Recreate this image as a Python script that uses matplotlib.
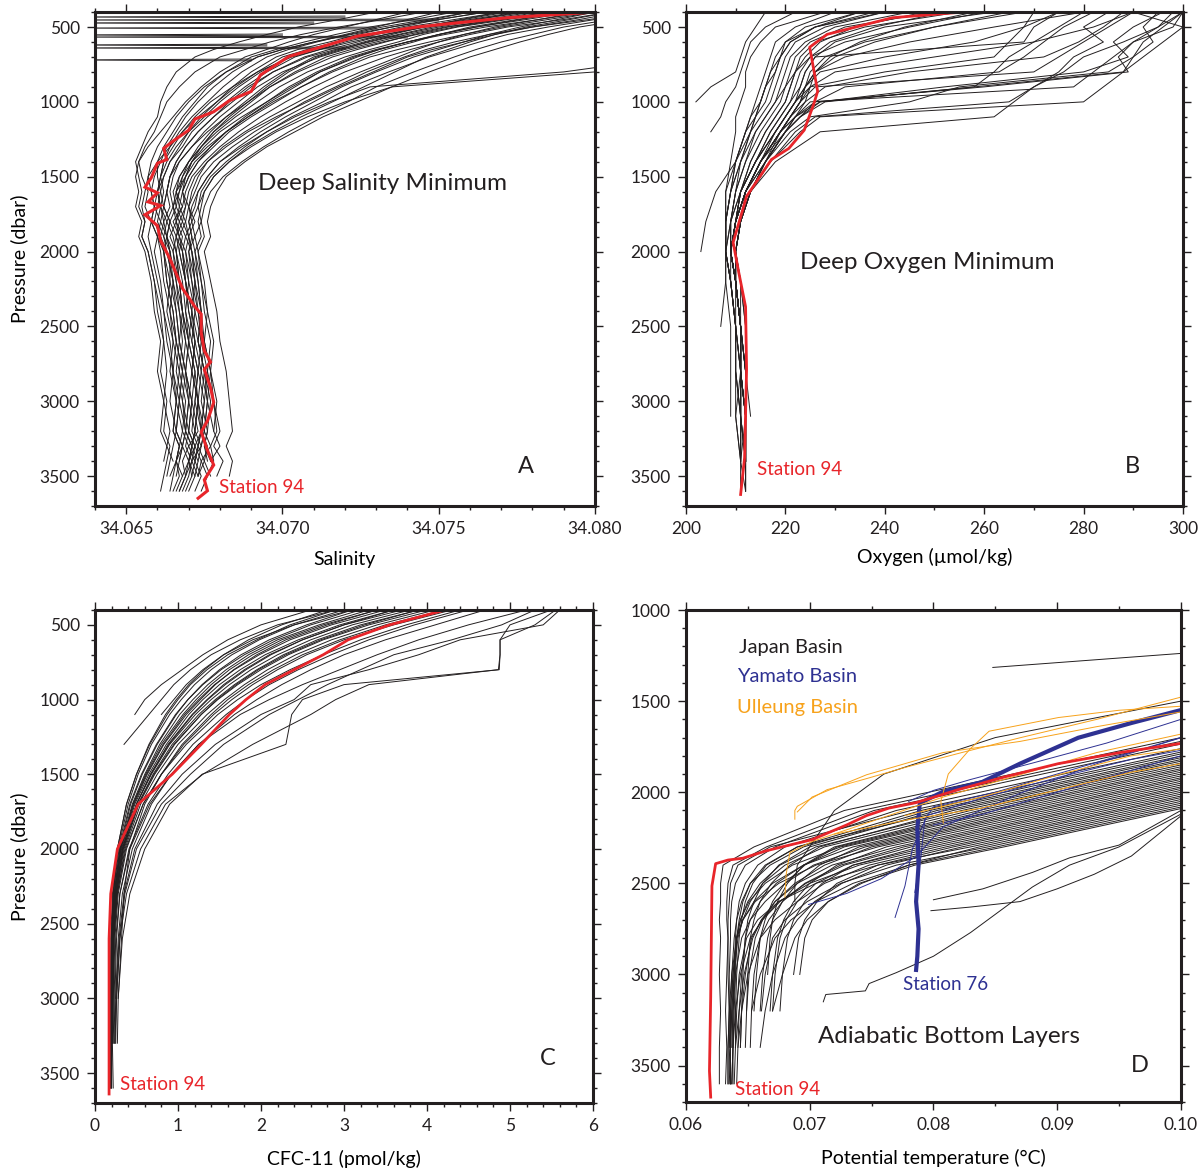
import numpy as np
import matplotlib
matplotlib.use("Agg")
import matplotlib.pyplot as plt
from matplotlib.ticker import MultipleLocator

plt.rcParams['font.family'] = ['Lato', 'DejaVu Sans']

BLACK = '#231f20'
RED = '#e8252a'
BLUE = '#2e3192'
ORANGE = '#f7a21b'

nan = np.nan

# ---------------- panel A: salinity (units of 1e-4 above 34.060) ----------------
sal_levels = [400, 450, 500, 550, 600, 650, 700, 800, 900, 1000, 1100, 1200, 1300, 1400, 1500,
              1600, 1700, 1800, 1900, 2000, 2200, 2400, 2600, 2800, 3000, 3200, 3300, 3400, 3500, 3600]
sal_profiles_e4 = [
    [205, 190, 172, 160, 150, 141, 133, 120, 110, 101, 93, 86, 80, 75, 71, 69, 68, 66, 68, 67, 69, 70, 72, 71, 73, 72, 74, 71, 73, nan],
    [198, 182, 165, 152, 140, 131, 124, 112, 104, 96, 89, 82, 77, 72, 69, 66, 68, 65, 67, 66, 68, 69, 70, 72, 71, 73, 70, 72, nan, nan],
    [210, 200, 185, 172, 163, 155, 147, 134, 122, 113, 103, 95, 88, 82, 77, 74, 73, 71, 72, 70, 72, 73, 75, 74, 76, 75, 77, 74, 76, 74],
    [185, 170, 152, 140, 130, 120, 112, 100, 92, 86, 80, 75, 71, 67, 64, 63, 62, 64, 63, 65, 66, 67, 69, 68, 70, 69, 71, 70, 68, nan],
    [175, 160, 143, 130, 120, 112, 104, 95, 88, 82, 76, 71, 68, 64, 62, 60, 61, 62, 61, 63, 65, 66, 67, 69, 68, 70, 69, 71, 69, nan],
    [220, 205, 190, 180, 170, 162, 155, 142, 130, 121, 111, 102, 94, 87, 81, 77, 75, 74, 75, 73, 75, 76, 78, 77, 79, 78, 80, 77, nan, nan],
    [190, 175, 160, 150, 142, 133, 126, 115, 106, 98, 90, 83, 78, 73, 70, 68, 67, 69, 67, 69, 70, 72, 71, 73, 72, 74, 73, 72, 74, 72],
    [160, 148, 135, 124, 115, 105, 98, 90, 84, 79, 74, 70, 66, 63, 61, 60, 59, 61, 60, 62, 63, 65, 66, 65, 67, 66, 68, 66, 67, 65],
    [200, 188, 176, 166, 158, 150, 142, 130, 119, 110, 101, 93, 86, 80, 76, 73, 71, 70, 71, 70, 71, 73, 74, 76, 75, 74, 76, 75, 77, nan],
    [180, 165, 150, 138, 128, 118, 110, 101, 94, 88, 82, 77, 73, 70, 67, 66, 65, 66, 64, 66, 67, 68, 70, 69, 71, 70, 72, 71, 70, 68],
    [215, 198, 180, 166, 155, 146, 139, 127, 117, 107, 99, 91, 84, 78, 74, 72, 70, 72, 70, 71, 73, 74, 73, 75, 77, 76, 75, 77, nan, nan],
    [170, 155, 140, 128, 118, 110, 102, 93, 86, 80, 75, 70, 67, 64, 62, 61, 60, 59, 61, 62, 64, 63, 65, 67, 66, 68, 67, 66, 68, 66],
    [195, 182, 168, 158, 150, 143, 137, 125, 114, 105, 96, 88, 81, 76, 72, 70, 69, 68, 70, 69, 71, 72, 74, 73, 75, 74, 73, 75, 73, nan],
    [208, 195, 180, 168, 158, 148, 140, 129, 118, 108, 98, 89, 82, 76, 73, 71, 70, 71, 69, 71, 72, 71, 73, 75, 74, 76, 75, 76, nan, nan],
    [150, 140, 130, 120, 110, 100, 92, 84, 78, 73, 69, 66, 63, 61, 59, 58, 59, 58, 60, 61, 62, 64, 65, 64, 66, 65, 67, 66, 64, nan],
    [188, 172, 156, 145, 137, 128, 120, 108, 99, 92, 85, 79, 74, 70, 68, 67, 65, 67, 66, 68, 69, 71, 70, 72, 73, 72, 71, 73, 72, 70],
    [205, 192, 178, 168, 160, 153, 146, 136, 126, 116, 106, 97, 89, 83, 78, 75, 74, 73, 74, 72, 74, 75, 77, 76, 78, 80, 78, 81, 79, nan],
    [170, 157, 145, 135, 126, 117, 108, 97, 89, 83, 78, 73, 69, 66, 64, 63, 64, 62, 63, 64, 65, 67, 68, 67, 69, 68, 70, 68, 69, 67],
    [182, 168, 153, 142, 133, 124, 116, 105, 96, 90, 84, 78, 74, 70, 67, 65, 66, 64, 66, 65, 67, 68, 69, 71, 70, 72, 71, 70, nan, nan],
    [225, 210, 195, 185, 176, 168, 160, 147, 135, 124, 113, 104, 95, 88, 82, 79, 77, 76, 77, 75, 77, 79, 80, 82, 83, 84, 82, 84, 83, nan],
    [165, 150, 138, 127, 117, 108, 100, 92, 85, 79, 73, 68, 64, 60, 57, 56, 55, 56, 55, 57, 59, 60, 62, 61, 63, 62, 64, 63, 62, 61],
    [140, 130, 120, 110, 102, 95, 88, 80, 74, 69, 65, 61, 57, 54, 53, 54, 53, 55, 54, 56, 58, 59, 61, 60, 62, 61, 63, 62, nan, nan],
    [193, 178, 162, 150, 140, 130, 122, 111, 102, 95, 88, 82, 77, 73, 70, 68, 69, 67, 69, 68, 70, 69, 71, 73, 72, 71, 73, 72, 71, nan],
    [176, 162, 148, 137, 127, 119, 111, 102, 95, 89, 83, 78, 74, 71, 69, 68, 70, 69, 70, 71, 72, 74, 75, 77, 78, 79, 77, 78, 76, nan],
    [240, 238, 235, 232, 230, 228, 225, 190, 128, 115, 104, 95, 87, 80, 76, 73, 72, 70, 71, 72, 73, 74, 73, 75, 76, 75, 74, nan, nan, nan],
    [240, 238, 236, 234, 232, 230, 228, 200, 135, 120, 108, 98, 90, 83, 78, 75, 73, 74, 72, 73, 74, 76, 75, 77, 76, 78, nan, nan, nan, nan],
    [130, 118, 105, 95, 86, 78, 72, 66, 63, 61, 60, 57, 55, 53, 54, 55, 54, 56, 55, 57, 59, 61, 62, 63, 62, 64, 63, 65, nan, nan],
    [145, 132, 118, 106, 96, 88, 80, 72, 67, 63, 61, 59, 56, 54, 55, 57, 56, 58, 57, 58, 60, 62, 63, 65, 64, 66, 65, 64, 63, nan],
    [165, 150, 135, 122, 110, 100, 92, 82, 75, 70, 66, 63, 60, 58, 57, 58, 59, 58, 60, 59, 61, 62, 64, 65, 66, 65, 67, 66, 65, 64],
    [178, 162, 146, 133, 122, 112, 103, 92, 84, 77, 72, 68, 65, 62, 61, 62, 61, 63, 62, 64, 64, 66, 67, 66, 68, 69, 68, 70, 69, 67],
    [155, 142, 128, 117, 107, 98, 90, 82, 76, 72, 68, 65, 62, 60, 60, 61, 62, 61, 63, 62, 63, 65, 66, 68, 67, 69, 68, 67, nan, nan],
    [185, 170, 155, 143, 132, 122, 114, 104, 96, 89, 82, 76, 71, 67, 65, 64, 65, 63, 65, 66, 67, 68, 70, 69, 71, 70, 72, 70, 71, 69],
    [200, 185, 170, 158, 147, 137, 128, 116, 106, 97, 89, 82, 76, 71, 68, 66, 67, 66, 67, 68, 69, 70, 72, 71, 73, 74, 72, 74, 73, nan],
    [172, 158, 144, 133, 124, 115, 107, 97, 90, 84, 78, 73, 69, 66, 64, 63, 62, 64, 63, 64, 66, 68, 67, 69, 70, 69, 71, 70, 72, nan],
    [190, 176, 162, 150, 140, 131, 123, 112, 103, 95, 87, 80, 75, 71, 69, 67, 66, 68, 66, 67, 69, 71, 72, 74, 73, 75, 74, 73, nan, nan],
    [160, 146, 132, 121, 111, 102, 95, 87, 81, 76, 71, 67, 64, 62, 61, 60, 61, 60, 62, 63, 65, 64, 66, 68, 67, 66, 68, 67, 66, nan],
]
# shallow spikes that run off the left edge
sal_spike_p = [433, 453, 473, 507, 553, 567, 620, 640, 720]
sal_spike_e4 = [120, 150, 110, 130, 100, 140, 95, 120, 90]
sal_spike_left_e4 = 30

sal94_p = [400, 438, 500, 561, 623, 697, 820, 930, 992, 1066, 1115, 1189, 1262, 1311, 1385, 1410, 1508,
           1570, 1607, 1668, 1693, 1754, 1828, 1926, 2049, 2148, 2246, 2369, 2418, 2541, 2664, 2738,
           2787, 2910, 3008, 3131, 3205, 3328, 3426, 3525, 3598, 3648]
sal94_e4 = [200, 172, 143, 124, 114, 102, 93, 90, 83, 78, 72, 70, 65, 62, 63, 60, 58,
            56, 60, 57, 61, 56, 60, 61, 64, 66, 68, 72, 74, 74, 75, 77,
            75, 77, 78, 76, 74, 76, 78, 75, 76, 73]

# ---------------- panel B: oxygen ----------------
oxy_levels = [400, 500, 600, 700, 800, 900, 1000, 1100, 1200, 1400, 1600, 1800, 2000, 2200, 2500, 2800, 3100, 3400, 3600]
oxy_profiles = [
    [250, 232, 225, 222, 221, 220, 219, 217, 215, 212, 210, 209, 209, 210, 211, 211, 211, 212, nan],
    [240, 228, 222, 220, 219, 218, 217, 215, 213, 211, 209, 208, 208, 209, 210, 210, 211, 211, 211],
    [262, 240, 230, 226, 224, 223, 222, 220, 218, 215, 212, 211, 210, 211, 212, 212, 212, 212, nan],
    [230, 222, 218, 217, 216, 215, 214, 213, 212, 210, 209, 208, 208, 209, 210, 211, 210, 211, nan],
    [280, 262, 245, 232, 226, 224, 222, 220, 218, 214, 211, 210, 209, 210, 211, 211, 212, 211, 212],
    [290, 285, 280, 275, 270, 226, 223, 221, 219, 216, 213, 211, 210, 211, 212, 212, 213, nan, nan],
    [298, 295, 290, 286, 282, 278, 225, 222, 220, 216, 213, 211, 210, 210, 211, 212, 212, 212, nan],
    [270, 268, 265, 262, 240, 225, 222, 220, 218, 214, 211, 210, 209, 210, 211, 211, 211, 211, nan],
    [300, 298, 290, 287, 289, 260, 226, 223, 220, 216, 213, 211, 210, 210, 211, 212, 212, 212, 212],
    [285, 280, 284, 278, 275, 270, 265, 226, 222, 217, 213, 211, 210, 211, 211, 212, 212, nan, nan],
    [235, 224, 220, 219, 218, 217, 216, 214, 212, 210, 208, 208, 208, 209, 210, 210, 211, 211, nan],
    [255, 236, 226, 223, 222, 221, 220, 218, 216, 213, 211, 209, 209, 210, 211, 211, 212, 212, 212],
    [245, 230, 224, 221, 220, 219, 218, 216, 214, 212, 210, 209, 208, 209, 210, 211, 211, nan, nan],
    [275, 270, 268, 226, 224, 223, 221, 219, 217, 214, 211, 210, 209, 210, 211, 211, 212, 212, nan],
    [295, 292, 294, 290, 285, 255, 245, 225, 221, 216, 212, 210, 209, 210, 211, 211, 212, 212, nan],
    [228, 218, 215, 213, 212, 212, 211, 210, 210, 209, 208, 208, 208, 209, 210, 210, 210, 211, nan],
    [265, 250, 236, 228, 225, 224, 223, 221, 219, 215, 212, 210, 209, 210, 211, 211, 211, 212, nan],
    [280, 275, 270, 265, 262, 258, 227, 223, 220, 215, 212, 210, 209, 210, 211, 211, 212, nan, nan],
    [222, 216, 213, 212, 211, 210, 208, 207, 205, nan, nan, nan, nan, nan, nan, nan, nan, nan, nan],
    [216, 214, 212, 211, 210, 205, 202, nan, nan, nan, nan, nan, nan, nan, nan, nan, nan, nan, nan],
    [235, 226, 221, 219, 217, 216, 215, 214, 213, 210, 206, 204, 203, nan, nan, nan, nan, nan, nan],
    [240, 226, 220, 218, 217, 216, 215, 214, 213, 211, 210, 209, 208, 208, 207, nan, nan, nan, nan],
    [260, 245, 232, 225, 222, 220, 218, 216, 214, 211, 209, 208, 208, 208, 209, 209, 209, nan, nan],
    [290, 300, 296, 292, 288, 284, 280, 227, 223, 217, 213, 211, 210, 210, 211, 211, 212, 212, nan],
    [300, 296, 292, 290, 288, 258, 228, 223, 220, 216, 212, 210, 209, 210, 211, 211, 212, 212, nan],
    [296, 290, 286, 289, 280, 252, 227, 222, 219, 215, 212, 210, 209, 210, 211, 212, 212, nan, nan],
    [288, 284, 279, 272, 245, 228, 224, 221, 219, 215, 212, 210, 209, 210, 211, 211, 211, 212, nan],
    [275, 268, 258, 240, 227, 224, 222, 220, 218, 214, 211, 210, 209, 209, 210, 211, 211, 211, nan],
    [290, 282, 270, 250, 230, 225, 223, 221, 219, 215, 212, 210, 209, 210, 211, 212, 212, 212, nan],
    [258, 244, 235, 229, 226, 224, 223, 221, 219, 215, 212, 210, 209, 210, 211, 211, 212, 212, 212],
    [248, 234, 227, 224, 222, 221, 220, 218, 216, 213, 211, 209, 209, 210, 210, 211, 211, 211, nan],
    [268, 250, 238, 230, 226, 225, 224, 222, 220, 216, 213, 211, 210, 210, 211, 212, 212, nan, nan],
    [238, 226, 221, 219, 218, 216, 215, 213, 212, 210, 209, 208, 208, 209, 210, 210, 211, 211, nan],
    [300, 295, 288, 280, 276, 270, 266, 262, 227, 218, 213, 211, 210, 210, 211, 211, 212, 212, nan],
    [282, 276, 272, 268, 263, 232, 226, 222, 219, 215, 212, 210, 209, 210, 211, 211, 212, nan, nan],
    [252, 238, 229, 225, 223, 222, 221, 219, 217, 214, 211, 210, 209, 210, 211, 211, 211, 212, nan],
]
oxy94_p = [400, 438, 549, 635, 930, 1016, 1189, 1311, 1385, 1631, 1939, 2135, 2369, 2787, 3377, 3623]
oxy94 = [255.8, 241.5, 228.4, 224.9, 226.5, 225.7, 223.8, 220.7, 217.2, 212.2, 209.5, 210.6, 212.0, 212.2, 211.8, 211.0]

# ---------------- panel C: CFC-11 ----------------
cfc_levels = [400, 500, 600, 700, 800, 900, 1000, 1100, 1300, 1500, 1700, 2000, 2300, 2600, 3000, 3300, 3600]
cfc_profiles = [
    [3.2, 2.6, 2.15, 1.8, 1.52, 1.3, 1.12, 0.98, 0.75, 0.57, 0.43, 0.3, 0.23, 0.2, 0.19, 0.19, nan],
    [3.5, 2.85, 2.35, 1.98, 1.68, 1.44, 1.25, 1.08, 0.82, 0.62, 0.46, 0.31, 0.24, 0.21, 0.2, 0.19, nan],
    [3.0, 2.4, 1.98, 1.65, 1.4, 1.2, 1.04, 0.9, 0.68, 0.52, 0.4, 0.28, 0.22, 0.2, 0.19, nan, nan],
    [3.8, 3.1, 2.6, 2.2, 1.88, 1.62, 1.4, 1.21, 0.9, 0.68, 0.5, 0.33, 0.25, 0.21, 0.2, 0.2, nan],
    [3.6, 2.95, 2.45, 2.05, 1.75, 1.5, 1.3, 1.13, 0.86, 0.65, 0.48, 0.32, 0.24, 0.21, 0.2, 0.19, 0.19],
    [4.0, 3.3, 2.75, 2.33, 2.0, 1.72, 1.48, 1.28, 0.96, 0.72, 0.53, 0.35, 0.26, 0.22, 0.21, 0.2, nan],
    [2.8, 2.25, 1.85, 1.55, 1.32, 1.13, 0.98, 0.85, 0.65, 0.5, 0.38, 0.27, 0.21, 0.19, 0.19, 0.18, nan],
    [4.4, 3.75, 3.2, 2.75, 2.35, 2.0, 1.72, 1.48, 1.1, 0.8, 0.58, 0.37, 0.27, 0.23, 0.21, 0.21, nan],
    [3.4, 2.75, 2.25, 1.9, 1.62, 1.4, 1.22, 1.06, 0.8, 0.61, 0.46, 0.31, 0.24, 0.21, 0.2, 0.2, nan],
    [3.9, 3.2, 2.68, 2.27, 1.95, 1.68, 1.45, 1.25, 0.93, 0.7, 0.52, 0.34, 0.26, 0.22, 0.21, 0.2, nan],
    [4.7, 4.1, 3.5, 3.0, 2.6, 2.25, 1.95, 1.68, 1.25, 0.92, 0.66, 0.42, 0.3, 0.25, 0.23, 0.22, nan],
    [5.2, 4.5, 3.9, 3.4, 2.95, 2.5, 2.1, 1.75, 1.25, 0.92, 0.68, 0.45, 0.33, 0.28, 0.25, nan, nan],
    [5.55, 5.3, 4.88, 4.88, 4.86, 3.3, 2.9, 2.6, 1.9, 1.3, 0.85, 0.55, 0.38, 0.3, 0.26, 0.25, nan],
    [5.5, 5.0, 4.88, 4.88, 4.87, 3.0, 2.5, 2.37, 2.3, 1.29, 0.9, 0.6, 0.42, 0.33, 0.28, 0.27, nan],
    [5.3, 4.9, 4.3, 3.6, 3.2, 2.8, 2.45, 2.1, 1.55, 1.15, 0.8, 0.5, 0.36, 0.3, 0.26, 0.24, nan],
    [5.6, 5.4, 4.4, 3.9, 3.3, 2.6, 2.4, 2.0, 1.45, 1.05, 0.75, 0.48, 0.35, 0.29, 0.25, 0.24, nan],
    [2.6, 2.0, 1.6, 1.3, 1.05, 0.8, 0.6, 0.48, nan, nan, nan, nan, nan, nan, nan, nan, nan],
    [2.9, 2.2, 1.75, 1.4, 1.15, 0.95, 0.8, 0.65, 0.35, nan, nan, nan, nan, nan, nan, nan, nan],
    [3.1, 2.4, 1.9, 1.55, 1.3, 1.1, 0.95, 0.8, nan, nan, nan, nan, nan, nan, nan, nan, nan],
    [2.9, 2.35, 1.95, 1.6, 1.35, 1.15, 1.0, 0.87, 0.66, 0.5, 0.38, 0.27, 0.22, 0.2, 0.2, 0.19, 0.19],
    [4.2, 3.5, 2.95, 2.5, 2.15, 1.85, 1.6, 1.4, 1.05, 0.8, 0.6, 0.42, 0.35, 0.32, 0.28, nan, nan],
    [3.7, 3.0, 2.5, 2.1, 1.8, 1.55, 1.35, 1.17, 0.88, 0.67, 0.5, 0.33, 0.25, 0.22, 0.21, 0.21, 0.22],
    [4.5, 3.85, 3.3, 2.85, 2.45, 2.1, 1.82, 1.58, 1.18, 0.88, 0.64, 0.41, 0.3, 0.26, 0.24, 0.23, nan],
    [3.3, 2.7, 2.2, 1.85, 1.58, 1.36, 1.18, 1.02, 0.78, 0.6, 0.45, 0.3, 0.23, 0.2, 0.19, 0.19, 0.19],
    [3.4, 2.8, 2.3, 1.95, 1.67, 1.45, 1.27, 1.1, 0.83, 0.63, 0.47, 0.31, 0.24, 0.21, 0.2, 0.2, 0.2],
    [3.9, 3.25, 2.72, 2.3, 1.97, 1.7, 1.47, 1.28, 0.95, 0.71, 0.52, 0.34, 0.26, 0.22, 0.21, 0.2, nan],
    [3.1, 2.55, 2.1, 1.76, 1.5, 1.29, 1.12, 0.97, 0.74, 0.56, 0.42, 0.29, 0.22, 0.2, 0.19, 0.19, nan],
    [4.1, 3.4, 2.85, 2.42, 2.08, 1.8, 1.56, 1.35, 1.0, 0.75, 0.55, 0.36, 0.27, 0.23, 0.22, 0.21, nan],
    [3.6, 3.0, 2.5, 2.12, 1.82, 1.57, 1.36, 1.18, 0.89, 0.67, 0.5, 0.33, 0.25, 0.22, 0.21, 0.2, 0.2],
    [4.3, 3.6, 3.0, 2.55, 2.2, 1.9, 1.65, 1.43, 1.07, 0.8, 0.58, 0.38, 0.28, 0.24, 0.22, 0.21, nan],
]
cfc94_p = [400, 500, 600, 700, 800, 900, 1000, 1100, 1300, 1500, 1700, 2000, 2300, 2600, 3000, 3300, 3640]
cfc94 = [4.22, 3.55, 3.05, 2.75, 2.4, 2.05, 1.82, 1.62, 1.28, 0.93, 0.52, 0.27, 0.19, 0.17, 0.17, 0.17, 0.17]

# ---------------- panel D: potential temperature ----------------
pt_levels = [1500, 1700, 1900, 2100, 2300, 2400, 2500, 2600, 2700, 2800, 3000, 3200, 3400, 3600]
pt_japan = [
    [.1136, .1000, .0864, .0728, .0655, .0630, .0628, .0628, .0627, .0628, .0627, .0628, .0627, .0627],
    [.1150, .1014, .0878, .0742, .0665, .0638, .0634, .0633, .0633, .0634, .0633, .0632, .0633, .0632],
    [.1177, .1041, .0905, .0770, .0680, .0658, .0648, .0643, .0641, .0640, .0639, .0638, .0638, .0637],
    [.1197, .1061, .0925, .0790, .0690, .0665, .0654, .0648, .0645, .0643, .0641, .0640, .0640, nan],
    [.1211, .1075, .0939, .0803, .0700, .0675, .0662, .0655, .0650, .0648, .0646, .0645, .0644, nan],
    [.1224, .1088, .0952, .0816, .0708, .0684, .0669, .0660, .0655, .0652, .0650, .0649, nan, nan],
    [.1238, .1102, .0966, .0830, .0712, .0680, .0662, .0652, .0646, .0642, .0639, .0637, .0636, .0636],
    [.1252, .1116, .0980, .0844, .0722, .0696, .0680, .0670, .0664, .0660, .0657, .0655, nan, nan],
    [.1265, .1129, .0993, .0857, .0728, .0695, .0673, .0660, .0652, .0648, .0645, .0643, .0642, .0641],
    [.1279, .1143, .1007, .0871, .0740, .0708, .0690, .0678, .0670, .0666, .0662, .0660, nan, nan],
    [.1292, .1156, .1020, .0884, .0750, .0712, .0688, .0672, .0662, .0656, .0651, .0649, .0648, nan],
    [.1306, .1170, .1034, .0898, .0762, .0722, .0700, .0687, .0679, .0674, .0670, .0668, nan, nan],
    [.1320, .1184, .1048, .0912, .0776, .0725, .0696, .0678, .0667, .0660, .0655, .0653, .0652, nan],
    [.1333, .1197, .1061, .0925, .0789, .0735, .0710, .0696, .0687, .0682, .0678, .0676, nan, nan],
    [.1347, .1211, .1075, .0939, .0803, .0740, .0700, .0675, .0661, .0653, .0648, .0645, .0644, nan],
    [.1360, .1224, .1088, .0952, .0816, .0755, .0722, .0706, .0696, .0691, .0687, nan, nan, nan],
    [.1374, .1238, .1102, .0966, .0830, .0755, .0705, .0675, .0658, .0649, .0643, .0641, .0640, nan],
    [.1388, .1252, .1116, .0980, .0844, .0770, .0725, .0698, .0680, .0670, .0664, .0661, nan, nan],
    [.1401, .1265, .1129, .0993, .0857, .0785, .0740, .0715, .0702, .0696, .0692, nan, nan, nan],
    [.1190, .1054, .0918, .0782, .0668, .0642, .0636, .0635, .0634, .0634, .0634, .0635, .0634, .0634],
    [.1258, .1122, .0986, .0850, .0725, .0686, .0664, .0651, .0644, .0641, .0639, .0638, .0638, .0637],
    [.1299, .1163, .1027, .0891, .0755, .0705, .0675, .0656, .0646, .0641, .0638, .0637, .0636, .0636],
    [.1340, .1204, .1068, .0932, .0796, .0735, .0705, .0690, .0681, .0676, .0672, .0670, nan, nan],
    [.1245, .1109, .0973, .0837, .0720, .0695, .0682, .0674, .0670, .0668, .0666, nan, nan, nan],
    [.1000, .0850, .0760, .0720, .0700, .0690, .0688, .0688, nan, nan, nan, nan, nan, nan],
    [.1381, .1245, .1109, .0973, .0837, .0780, .0742, .0715, .0698, .0688, .0678, .0670, nan, nan],
    [.1313, .1177, .1041, .0905, .0770, .0718, .0690, .0672, .0661, .0654, .0647, .0643, .0640, .0639],
    [.1218, .1082, .0946, .0810, .0690, .0664, .0652, .0646, .0643, .0641, .0640, .0639, .0638, .0638],
    [.1367, .1231, .1095, .0959, .0823, .0762, .0726, .0704, .0690, .0680, .0670, .0664, .0660, nan],
    [.1272, .1136, .1000, .0864, .0735, .0695, .0670, .0655, .0646, .0641, .0637, .0635, .0634, .0634],
    [.1160, .1024, .0888, .0752, .0672, .0648, .0640, .0637, .0636, .0636, .0635, .0635, .0635, .0636],
    [.1205, .1069, .0933, .0797, .0695, .0668, .0652, .0645, .0641, .0639, .0637, .0636, .0635, nan],
    [.1231, .1095, .0959, .0823, .0705, .0676, .0660, .0650, .0644, .0641, .0638, .0636, .0636, .0635],
    [.1286, .1150, .1014, .0878, .0745, .0703, .0680, .0664, .0652, .0645, .0640, .0638, .0637, nan],
    [.1326, .1190, .1054, .0918, .0782, .0728, .0697, .0676, .0662, .0652, .0644, .0640, .0638, nan],
    [.1354, .1218, .1082, .0946, .0810, .0748, .0712, .0690, .0672, .0660, .0650, .0645, .0642, nan],
    [.1395, .1259, .1123, .0987, .0851, .0780, .0735, .0705, .0685, .0672, .0660, .0653, nan, nan],
]
# odd Japan Basin casts, kept as their own pressure / temperature pairs
pt_odd_p = [
    [1315, 1238],
    [3150, 3110, 3090, 3050, 2990, 2900, 2770, 2620, 2520, 2400, 2300, 2120],
    [2650, 2630, 2600, 2530, 2450, 2350, 2130],
    [2590, 2530, 2440, 2360, 2290, 2100],
]
pt_odd_t = [
    [0.0848, 0.1000],
    [0.0711, 0.0713, 0.0745, 0.0748, 0.0770, 0.0800, 0.0830, 0.0860, 0.0880, 0.0910, 0.0950, 0.1000],
    [0.0798, 0.0830, 0.0870, 0.0900, 0.0930, 0.0960, 0.1000],
    [0.0800, 0.0840, 0.0880, 0.0910, 0.0950, 0.1000],
]
pt_yamato_p = [
    [2616, 2555, 2474, 2352, 2189, 2006, 1843, 1701],
    [2687, 2514, 2311, 2128, 2030, 1920, 1820, 1770],
    [2550, 2350, 2150, 2080, 2000, 1860, 1700],
    [2050, 1990, 1930, 1840, 1730, 1600],
    [2180, 2120, 2000, 1880, 1800],
]
pt_yamato_t = [
    [0.0699, 0.0730, 0.0758, 0.0786, 0.0808, 0.0870, 0.0932, 0.1000],
    [0.0769, 0.0777, 0.0783, 0.0795, 0.0840, 0.0900, 0.0960, 0.1000],
    [0.0785, 0.0790, 0.0793, 0.0800, 0.0850, 0.0920, 0.1000],
    [0.0780, 0.0800, 0.0830, 0.0880, 0.0940, 0.1000],
    [0.0800, 0.0840, 0.0900, 0.0960, 0.1000],
]
pt76_p = [1549, 1620, 1701, 1843, 1945, 1996, 2060, 2200, 2400, 2600, 2750, 2900, 2975]
pt76 = [0.1000, 0.0960, 0.0917, 0.0870, 0.0839, 0.0808, 0.0789, 0.0787, 0.0788, 0.0786, 0.0788, 0.0787, 0.0786]
pt_ulleung_p = [
    [2148, 2100, 2077, 1986, 1925, 1864, 1782, 1701, 1600, 1478],
    [2575, 2450, 2331, 2270, 2169, 2026, 1904, 1782, 1681],
    [2169, 2050, 1900, 1760, 1665, 1590, 1550, 1528],
    [2108, 2026, 1904, 1782, 1721, 1640, 1559],
    [2230, 2150, 2087, 1986, 1890, 1843],
    [2128, 2026, 1904, 1800, 1762],
]
pt_ulleung_t = [
    [0.0688, 0.0688, 0.0690, 0.0714, 0.0746, 0.0777, 0.0823, 0.0870, 0.0932, 0.1000],
    [0.0680, 0.0681, 0.0684, 0.0702, 0.0746, 0.0808, 0.0870, 0.0932, 0.1000],
    [0.0808, 0.0806, 0.0812, 0.0830, 0.0845, 0.0901, 0.0950, 0.1000],
    [0.0690, 0.0702, 0.0746, 0.0808, 0.0870, 0.0932, 0.1000],
    [0.0720, 0.0780, 0.0839, 0.0901, 0.0960, 0.1000],
    [0.0777, 0.0839, 0.0901, 0.0960, 0.1000],
]
pt94_p = [1732, 1782, 1843, 1915, 1986, 2057, 2087, 2128, 2179, 2260, 2291, 2321, 2362, 2372, 2392, 2514, 3124, 3530, 3673]
pt94 = [0.1000, 0.0951, 0.0901, 0.0858, 0.0820, 0.0786, 0.0764, 0.0746, 0.0730, 0.0702, 0.0683, 0.0665,
        0.0646, 0.0634, 0.0624, 0.0621, 0.0620, 0.0619, 0.0620]


def style_axis(ax, xlim, ylim, xmaj, xmin, ymin_step=100):
    ax.set_xlim(*xlim)
    ax.set_ylim(*ylim)
    ax.xaxis.set_major_locator(MultipleLocator(xmaj))
    ax.xaxis.set_minor_locator(MultipleLocator(xmin))
    ax.yaxis.set_major_locator(MultipleLocator(500))
    ax.yaxis.set_minor_locator(MultipleLocator(ymin_step))
    for s in ax.spines.values():
        s.set_linewidth(2.2)
        s.set_color(BLACK)
    ax.tick_params(which='both', direction='out', top=True, right=True, colors=BLACK,
                   labelsize=12.5, width=1.0)
    ax.tick_params(which='major', length=6, pad=5)
    ax.tick_params(which='minor', length=3)


fig = plt.figure(figsize=(11.99, 11.70), dpi=100)
axA = fig.add_axes([0.0792, 0.5675, 0.4170, 0.4222])
axB = fig.add_axes([0.5721, 0.5675, 0.4145, 0.4222])
axC = fig.add_axes([0.0792, 0.0573, 0.4154, 0.4214])
axD = fig.add_axes([0.5721, 0.0581, 0.4128, 0.4205])

lw_thin = 0.7

# A
for row in sal_profiles_e4:
    axA.plot(34.060 + np.array(row) / 1e4, sal_levels, color=BLACK, lw=lw_thin)
for p, v in zip(sal_spike_p, sal_spike_e4):
    axA.plot(34.060 + np.array([v, sal_spike_left_e4, v]) / 1e4, [p - 6, p, p + 6], color=BLACK, lw=lw_thin)
axA.plot(34.060 + np.array(sal94_e4) / 1e4, sal94_p, color=RED, lw=2.2, solid_joinstyle='miter')
style_axis(axA, (34.064, 34.080), (3700, 400), 0.005, 0.001)
axA.set_xticks([34.065, 34.070, 34.075, 34.080])
axA.set_xticklabels(['34.065', '34.070', '34.075', '34.080'])
axA.set_xlabel('Salinity', fontsize=14, labelpad=10)
axA.set_ylabel('Pressure (dbar)', fontsize=14, labelpad=8)
axA.text(34.06922, 1547, 'Deep Salinity Minimum', fontsize=17.5, color=BLACK, va='center')
axA.text(34.0778, 3433, 'A', fontsize=17, color=BLACK, ha='center', va='center')
axA.text(34.06797, 3573, 'Station 94', fontsize=13.5, color=RED, va='center')

# B
for row in oxy_profiles:
    axB.plot(row, oxy_levels, color=BLACK, lw=lw_thin)
axB.plot(oxy94, oxy94_p, color=RED, lw=2.0)
style_axis(axB, (200, 300), (3700, 400), 20, 10)
axB.set_xlabel('Oxygen (\u00b5mol/kg)', fontsize=14, labelpad=8)
axB.text(222.9, 2073, 'Deep Oxygen Minimum', fontsize=17.5, color=BLACK, va='center')
axB.text(289.9, 3433, 'B', fontsize=17, color=BLACK, ha='center', va='center')
axB.text(214.3, 3453, 'Station 94', fontsize=13.5, color=RED, va='center')

# C
for row in cfc_profiles:
    axC.plot(row, cfc_levels, color=BLACK, lw=lw_thin)
axC.plot(cfc94, cfc94_p, color=RED, lw=2.0)
style_axis(axC, (0, 6), (3700, 400), 1, 0.2)
axC.set_xlabel('CFC-11 (pmol/kg)', fontsize=14, labelpad=11)
axC.set_ylabel('Pressure (dbar)', fontsize=14, labelpad=8)
axC.text(5.46, 3401, 'C', fontsize=17, color=BLACK, ha='center', va='center')
axC.text(0.30, 3574, 'Station 94', fontsize=13.5, color=RED, va='center')

# D
for row in pt_japan:
    axD.plot(row, pt_levels, color=BLACK, lw=lw_thin)
for pp, tt in zip(pt_odd_p, pt_odd_t):
    axD.plot(tt, pp, color=BLACK, lw=lw_thin)
for pp, tt in zip(pt_yamato_p, pt_yamato_t):
    axD.plot(tt, pp, color=BLUE, lw=lw_thin)
axD.plot(pt76, pt76_p, color=BLUE, lw=3.0)
for pp, tt in zip(pt_ulleung_p, pt_ulleung_t):
    axD.plot(tt, pp, color=ORANGE, lw=lw_thin)
axD.plot(pt94, pt94_p, color=RED, lw=2.0)
style_axis(axD, (0.06, 0.10), (3700, 1000), 0.01, 0.005)
axD.set_xticks([0.06, 0.07, 0.08, 0.09, 0.10])
axD.set_xticklabels(['0.06', '0.07', '0.08', '0.09', '0.10'])
axD.set_xlabel('Potential temperature (\u00b0C)', fontsize=14, labelpad=11)
axD.text(0.06428, 1203, 'Japan Basin', fontsize=14.5, color=BLACK, va='center')
axD.text(0.06410, 1367, 'Yamato Basin', fontsize=14.5, color=BLUE, va='center')
axD.text(0.06410, 1537, 'Ulleung Basin', fontsize=14.5, color=ORANGE, va='center')
axD.text(0.07754, 3056, 'Station 76', fontsize=13.5, color=BLUE, va='center')
axD.text(0.07067, 3341, 'Adiabatic Bottom Layers', fontsize=17.5, color=BLACK, va='center')
axD.text(0.09669, 3500, 'D', fontsize=17, color=BLACK, ha='center', va='center')
axD.text(0.06396, 3632, 'Station 94', fontsize=13.5, color=RED, va='center')

fig.savefig('out.png', dpi=100)
